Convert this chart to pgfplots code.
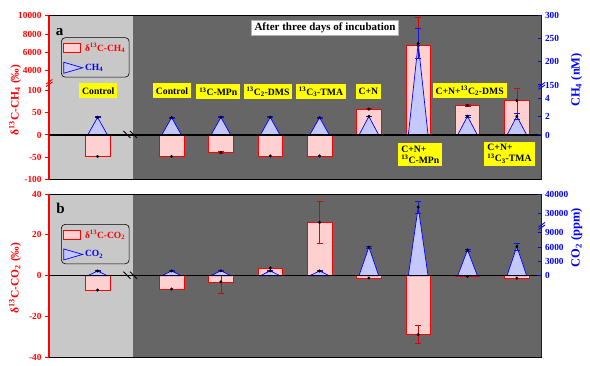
\documentclass[border=0pt]{standalone}
\usepackage{fontspec}
\setmainfont{Liberation Serif}
\usepackage{pgfplots}
\pgfplotsset{compat=1.18}
\definecolor{lgray}{RGB}{200,200,200}
\definecolor{dgray}{RGB}{102,102,102}
\definecolor{barfill}{RGB}{255,208,208}
\definecolor{trifill}{RGB}{196,200,255}
\definecolor{ered}{RGB}{220,0,0}
\definecolor{eblue}{RGB}{20,20,220}
\definecolor{ylw}{RGB}{255,255,0}

\makeatletter
\newcommand\fpueval[1]{\begingroup\pgfkeys{/pgf/fpu=true,/pgf/fpu/output format=fixed}\pgfmathparse{#1}\xdef\fpu@res{\pgfmathresult}\endgroup\let\pgfmathresult\fpu@res}
\makeatother

\newcommand\tickfont{\fontsize{9.3}{10}\selectfont\bfseries}
\newcommand\labfont{\fontsize{9.7}{11}\selectfont\bfseries}

\pgfplotsset{
  base/.style={scale only axis, width=492.5pt, xmin=-0.985, xmax=9, xtick=\empty,
    axis on top},
  leftax/.style={axis x line=box, axis y line*=left,
    x axis line style={black, line width=1pt},
    y axis line style={red, line width=1.5pt},
    tick style={red, line width=1pt}, tick align=outside, major tick length=4pt,
    yticklabel style={red, font=\tickfont}},
  rightax/.style={axis x line=none, axis y line*=right,
    y axis line style={blue, line width=1.5pt},
    tick style={blue, line width=1pt}, tick align=inside, major tick length=4pt,
    yticklabel style={blue, font=\tickfont}},
  bar/.style={draw=red, line width=0.7pt, fill=barfill, forget plot},
  tri/.style={draw=blue, line width=0.7pt, fill=trifill, forget plot},
  rerr/.style={ered, line width=0.6pt, mark=-, mark size=3pt, mark options={line width=0.8pt}, forget plot},
  berr/.style={eblue, line width=0.6pt, mark=-, mark size=3pt, mark options={line width=0.8pt}, forget plot},
  dots/.style={only marks, mark=*, mark size=1.3pt, black, forget plot},
  zeroline/.style={black, line width=1.3pt, forget plot},
  mylegend/.style={legend cell align=left,
    legend style={at={(rel axis cs:0.0244,#1)}, anchor=north west, draw=black, line width=0.6pt,
    rounded corners=4pt, fill=none, font=\fontsize{9.5}{10}\selectfont\bfseries,
    inner xsep=2pt, inner ysep=3.5pt, row sep=7pt}},
}

\begin{document}
\begin{tikzpicture}
\useasboundingbox (0,0) rectangle (590pt,366pt);

% ================= Panel a : left axis (delta13C-CH4) =================
\begin{axis}[base, leftax, height=163.95pt, at={(49pt,186.35pt)}, anchor=south west,
  ymin=-100, ymax=10000,
  y coord trafo/.code={\fpueval{((#1)<1000) ? (0.4465*(#1)) : (64.3+0.009167*((#1)-4000))}},
  ytick={-100,-50,0,50,100,4000,6000,8000,10000},
  yticklabels={-100,-50,0,50,100,4000,6000,8000,10000}]
\fill[lgray] (rel axis cs:0,0) rectangle (rel axis cs:0.1706,1);
\fill[dgray] (rel axis cs:0.1706,0) rectangle (rel axis cs:1,1);
\addplot[bar] coordinates {(-0.25,0) (-0.25,-48) (0.25,-48) (0.25,0)} -- cycle;
\addplot[bar] coordinates {(1.25,0) (1.25,-48) (1.75,-48) (1.75,0)} -- cycle;
\addplot[bar] coordinates {(2.25,0) (2.25,-39) (2.75,-39) (2.75,0)} -- cycle;
\addplot[bar] coordinates {(3.25,0) (3.25,-47) (3.75,-47) (3.75,0)} -- cycle;
\addplot[bar] coordinates {(4.25,0) (4.25,-47) (4.75,-47) (4.75,0)} -- cycle;
\addplot[bar] coordinates {(5.25,0) (5.25,58) (5.75,58) (5.75,0)} -- cycle;
\addplot[bar] coordinates {(6.25,0) (6.25,6720) (6.75,6720) (6.75,0)} -- cycle;
\addplot[bar] coordinates {(7.25,0) (7.25,66) (7.75,66) (7.75,0)} -- cycle;
\addplot[bar] coordinates {(8.25,0) (8.25,77) (8.75,77) (8.75,0)} -- cycle;
\addplot[rerr] coordinates {(2.5,-41) (2.5,-37)};
\addplot[rerr] coordinates {(5.5,56.5) (5.5,59.5)};
\addplot[rerr] coordinates {(6.5,3620) (6.5,9820)};
\addplot[rerr] coordinates {(7.5,64.5) (7.5,67.5)};
\addplot[rerr] coordinates {(8.5,49) (8.5,105)};
\addplot[dots] coordinates {(0,-48) (1.5,-48) (2.5,-39) (3.5,-47) (4.5,-47) (5.5,58) (6.5,6720) (7.5,66) (8.5,77)};
\end{axis}

% ================= Panel a : right axis (CH4) =================
\begin{axis}[base, rightax, height=163.95pt, at={(49pt,186.35pt)}, anchor=south west,
  ymin=-4.866, ymax=300,
  y coord trafo/.code={\fpueval{((#1)<20) ? (9.175*(#1)) : (50+0.462*((#1)-150))}},
  ytick={0,2,4,150,200,250,300},
  yticklabels={0,2,4,150,200,250,300},
  mylegend=0.868]
\addplot[tri] coordinates {(-0.2,0) (0,1.93) (0.2,0)} -- cycle;
\addplot[tri] coordinates {(1.3,0) (1.5,1.9) (1.7,0)} -- cycle;
\addplot[tri] coordinates {(2.3,0) (2.5,1.93) (2.7,0)} -- cycle;
\addplot[tri] coordinates {(3.3,0) (3.5,1.93) (3.7,0)} -- cycle;
\addplot[tri] coordinates {(4.3,0) (4.5,1.9) (4.7,0)} -- cycle;
\addplot[tri] coordinates {(5.3,0) (5.5,2.03) (5.7,0)} -- cycle;
\addplot[tri] coordinates {(6.3,0) (6.5,240) (6.7,0)} -- cycle;
\addplot[tri] coordinates {(7.3,0) (7.5,2.04) (7.7,0)} -- cycle;
\addplot[tri] coordinates {(8.3,0) (8.5,2.04) (8.7,0)} -- cycle;
\addplot[berr] coordinates {(0,1.88) (0,1.98)};
\addplot[berr] coordinates {(1.5,1.85) (1.5,1.95)};
\addplot[berr] coordinates {(2.5,1.88) (2.5,1.98)};
\addplot[berr] coordinates {(3.5,1.88) (3.5,1.98)};
\addplot[berr] coordinates {(4.5,1.85) (4.5,1.95)};
\addplot[berr] coordinates {(5.5,1.98) (5.5,2.08)};
\addplot[berr] coordinates {(6.5,207) (6.5,273)};
\addplot[berr] coordinates {(7.5,1.96) (7.5,2.12)};
\addplot[berr] coordinates {(8.5,1.74) (8.5,2.34)};
\addplot[dots] coordinates {(0,1.93) (1.5,1.9) (2.5,1.93) (3.5,1.93) (4.5,1.9) (5.5,2.03) (6.5,240) (7.5,2.04) (8.5,2.04)};
\addplot[zeroline] coordinates {(-0.985,0) (9,0)};
\addlegendimage{legend image code/.code={\draw[red,line width=0.7pt,fill=barfill,sharp corners] (0pt,-4.5pt) rectangle (17pt,4.5pt);}}
\addlegendentry{\textcolor{red}{δ\textsuperscript{13}C-CH\textsubscript{4}}}
\addlegendimage{legend image code/.code={\draw[blue,line width=0.7pt,fill=trifill,sharp corners] (0pt,-5.5pt) -- (19pt,0pt) -- (0pt,5.5pt) -- cycle;}}
\addlegendentry{\textcolor{blue}{CH\textsubscript{4}}}
\end{axis}

% ================= Panel b : left axis (delta13C-CO2) =================
\begin{axis}[base, leftax, height=163.5pt, at={(49pt,8.5pt)}, anchor=south west,
  ymin=-40, ymax=40,
  ytick={-40,-20,0,20,40}, yticklabels={-40,-20,0,20,40}]
\fill[lgray] (rel axis cs:0,0) rectangle (rel axis cs:0.1706,1);
\fill[dgray] (rel axis cs:0.1706,0) rectangle (rel axis cs:1,1);
\addplot[bar] coordinates {(-0.25,0) (-0.25,-7.0) (0.25,-7.0) (0.25,0)} -- cycle;
\addplot[bar] coordinates {(1.25,0) (1.25,-6.5) (1.75,-6.5) (1.75,0)} -- cycle;
\addplot[bar] coordinates {(2.25,0) (2.25,-3.0) (2.75,-3.0) (2.75,0)} -- cycle;
\addplot[bar] coordinates {(3.25,0) (3.25,3.8) (3.75,3.8) (3.75,0)} -- cycle;
\addplot[bar] coordinates {(4.25,0) (4.25,26.1) (4.75,26.1) (4.75,0)} -- cycle;
\addplot[bar] coordinates {(5.25,0) (5.25,-1.1) (5.75,-1.1) (5.75,0)} -- cycle;
\addplot[bar] coordinates {(6.25,0) (6.25,-28.8) (6.75,-28.8) (6.75,0)} -- cycle;
\addplot[bar] coordinates {(7.25,0) (7.25,-0.3) (7.75,-0.3) (7.75,0)} -- cycle;
\addplot[bar] coordinates {(8.25,0) (8.25,-1.2) (8.75,-1.2) (8.75,0)} -- cycle;
\addplot[rerr] coordinates {(2.5,-8.5) (2.5,2.5)};
\addplot[rerr] coordinates {(4.5,16.0) (4.5,36.2)};
\addplot[rerr] coordinates {(6.5,-33.3) (6.5,-24.3)};
\addplot[dots] coordinates {(0,-7.0) (1.5,-6.5) (2.5,-3.0) (3.5,3.8) (4.5,26.1) (5.5,-1.1) (6.5,-28.8) (7.5,-0.3) (8.5,-1.2)};
\end{axis}

% ================= Panel b : right axis (CO2) =================
\begin{axis}[base, rightax, height=163.5pt, at={(49pt,8.5pt)}, anchor=south west,
  ymin=-17110, ymax=40000,
  y coord trafo/.code={\fpueval{((#1)<15000) ? (0.004778*(#1)) : (62.25+0.00195*((#1)-30000))}},
  ytick={0,3000,6000,9000,30000,40000},
  yticklabels={0,3000,6000,9000,30000,40000},
  mylegend=0.8165]
\addplot[tri] coordinates {(-0.2,0) (0,1000) (0.2,0)} -- cycle;
\addplot[tri] coordinates {(1.3,0) (1.5,1000) (1.7,0)} -- cycle;
\addplot[tri] coordinates {(2.3,0) (2.5,1050) (2.7,0)} -- cycle;
\addplot[tri] coordinates {(3.3,0) (3.5,1050) (3.7,0)} -- cycle;
\addplot[tri] coordinates {(4.3,0) (4.5,1000) (4.7,0)} -- cycle;
\addplot[tri] coordinates {(5.3,0) (5.5,6000) (5.7,0)} -- cycle;
\addplot[tri] coordinates {(6.3,0) (6.5,33300) (6.7,0)} -- cycle;
\addplot[tri] coordinates {(7.3,0) (7.5,5400) (7.7,0)} -- cycle;
\addplot[tri] coordinates {(8.3,0) (8.5,6100) (8.7,0)} -- cycle;
\addplot[berr] coordinates {(0,940) (0,1060)};
\addplot[berr] coordinates {(1.5,940) (1.5,1060)};
\addplot[berr] coordinates {(2.5,990) (2.5,1110)};
\addplot[berr] coordinates {(3.5,990) (3.5,1110)};
\addplot[berr] coordinates {(4.5,940) (4.5,1060)};
\addplot[berr] coordinates {(5.5,5800) (5.5,6200)};
\addplot[berr] coordinates {(6.5,30200) (6.5,36400)};
\addplot[berr] coordinates {(7.5,5200) (7.5,5600)};
\addplot[berr] coordinates {(8.5,5400) (8.5,6800)};
\addplot[dots] coordinates {(0,1000) (1.5,1000) (2.5,1050) (3.5,1050) (4.5,1000) (5.5,6000) (6.5,33300) (7.5,5400) (8.5,6100)};
\addplot[zeroline] coordinates {(-0.985,0) (9,0)};
\addlegendimage{legend image code/.code={\draw[red,line width=0.7pt,fill=barfill,sharp corners] (0pt,-4.5pt) rectangle (17pt,4.5pt);}}
\addlegendentry{\textcolor{red}{δ\textsuperscript{13}C-CO\textsubscript{2}}}
\addlegendimage{legend image code/.code={\draw[blue,line width=0.7pt,fill=trifill,sharp corners] (0pt,-5.5pt) -- (19pt,0pt) -- (0pt,5.5pt) -- cycle;}}
\addlegendentry{\textcolor{blue}{CO\textsubscript{2}}}
\end{axis}

% ================= decorations: breaks =================
\draw[black, line width=0.9pt] (123.5pt,235pt) -- (130.5pt,228pt);
\draw[black, line width=0.9pt] (130pt,235pt) -- (137pt,228pt);
\draw[black, line width=0.9pt] (123.5pt,94.3pt) -- (130.5pt,87.3pt);
\draw[black, line width=0.9pt] (130pt,94.3pt) -- (137pt,87.3pt);
\draw[red, line width=0.9pt] (46pt,279.5pt) -- (52.5pt,284pt);
\draw[red, line width=0.9pt] (46pt,282pt) -- (52.5pt,286.5pt);
\draw[blue, line width=0.9pt] (538.5pt,276.5pt) -- (545pt,281pt);
\draw[blue, line width=0.9pt] (538.5pt,279pt) -- (545pt,283.5pt);
\draw[blue, line width=0.9pt] (538.5pt,136.5pt) -- (545pt,141pt);
\draw[blue, line width=0.9pt] (538.5pt,139pt) -- (545pt,143.5pt);

% ================= text annotations =================
\begin{scope}[every node/.style={fill=ylw, font=\labfont, inner xsep=3pt, inner ysep=2.5pt, minimum height=15pt}]
\node at (98.3pt,275.2pt) {Control};
\node at (172pt,275.2pt) {Control};
\node at (218.3pt,274.2pt) {\textsuperscript{13}C-MPn};
\node at (268pt,274.2pt) {\textsuperscript{13}C\textsubscript{2}-DMS};
\node at (321pt,274.2pt) {\textsuperscript{13}C\textsubscript{3}-TMA};
\node at (368.3pt,274.2pt) {C+N};
\node at (469.7pt,275.2pt) {C+N+\textsuperscript{13}C\textsubscript{2}-DMS};
\node[align=left] at (420.3pt,211.5pt) {C+N+\\\textsuperscript{13}C-MPn};
\node[align=left] at (509.5pt,212.2pt) {C+N+\\\textsuperscript{13}C\textsubscript{3}-TMA};
\end{scope}
\node[fill=white, draw=gray!60, line width=0.5pt, font=\fontsize{11}{12}\selectfont\bfseries, inner xsep=3pt, inner ysep=2.5pt] at (325pt,338.2pt) {After three days of incubation};
\node[font=\fontsize{15}{16}\selectfont\bfseries] at (59.7pt,334.3pt) {a};
\node[font=\fontsize{15}{16}\selectfont\bfseries] at (60.5pt,158pt) {b};
\node[rotate=90, red, font=\fontsize{11.5}{12}\selectfont\bfseries] at (15pt,266pt) {δ\textsuperscript{13}C-CH\textsubscript{4} (‰)};
\node[rotate=90, red, font=\fontsize{11.5}{12}\selectfont\bfseries] at (15pt,88pt) {δ\textsuperscript{13}C-CO\textsubscript{2} (‰)};
\node[rotate=90, blue, font=\fontsize{12.5}{13}\selectfont\bfseries] at (576.7pt,286pt) {CH\textsubscript{4} (nM)};
\node[rotate=90, blue, font=\fontsize{12.5}{13}\selectfont\bfseries] at (576.7pt,128pt) {CO\textsubscript{2} (ppm)};
\end{tikzpicture}
\end{document}
